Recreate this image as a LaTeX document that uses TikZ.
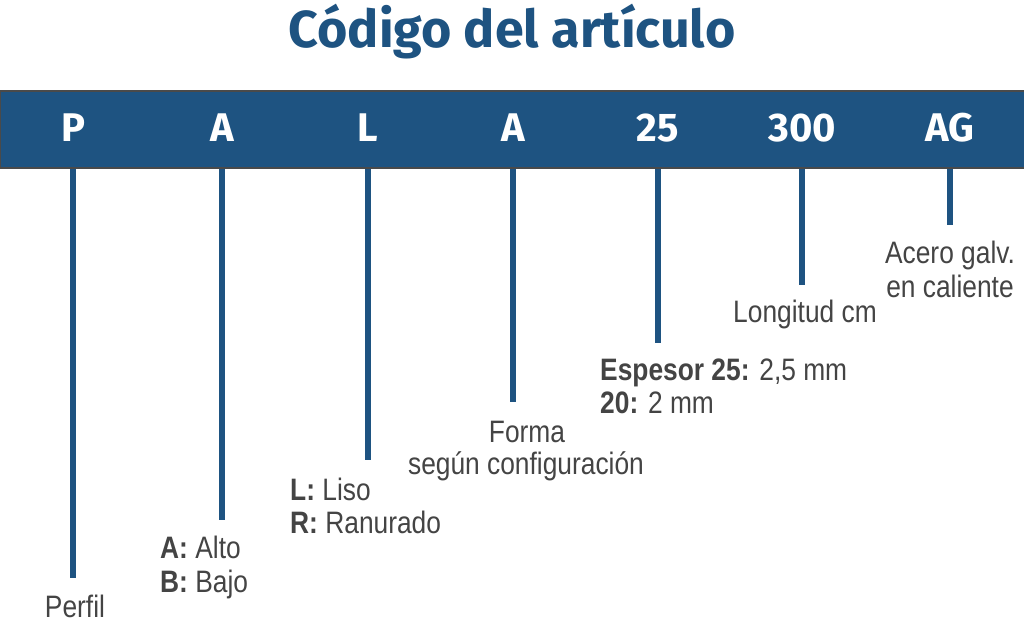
\documentclass[tikz,border=0pt]{standalone}
\usepackage{fontspec}
\setmainfont{Liberation Sans}
\newfontfamily\lab[FakeStretch=0.85]{Liberation Sans}
\newfontfamily\ttl{Fira Sans}
\definecolor{navy}{HTML}{1E5381}
\definecolor{txt}{HTML}{444444}
\definecolor{rim}{HTML}{4A4A4A}
\begin{document}
\begin{tikzpicture}[x=1pt,y=-1pt,
  code/.style={text=white,font=\ttl\bfseries\fontsize{40}{40}\selectfont,inner sep=0pt},
  lbl/.style={text=txt,font=\lab\fontsize{31}{31}\selectfont,inner sep=0pt},
  conn/.style={draw=navy,line width=5.5pt}]
\useasboundingbox (0,0) rectangle (1024,630);
\node[text=navy,font=\ttl\bfseries\fontsize{52}{52}\selectfont,inner sep=0pt,anchor=base] (title) at (512,47) {Código del artículo};
\node[draw=rim,line width=1.5pt,fill=navy,minimum width=1026pt,minimum height=77pt,inner sep=0pt,anchor=north west] (bar) at (-1,90) {};
\node[code] (cP) at (73,128) {P};
\node[code] (cA) at (222,128) {A};
\node[code] (cL) at (368,128) {L};
\node[code] (cF) at (513,128) {A};
\node[code] (cE) at (658,128) {25};
\node[code] (cG) at (802,128) {300};
\node[code] (cH) at (950,128) {AG};
\coordinate (eP) at (73,578);
\coordinate (eA) at (222,520);
\coordinate (eL) at (368,460);
\coordinate (eF) at (513,402);
\coordinate (eE) at (658,343);
\coordinate (eG) at (802,285);
\coordinate (eH) at (950,225);
\foreach \n in {P,A,L,F,E,G,H}{\draw[conn] (bar.south -| e\n) -- (e\n);}
\node[lbl,anchor=base] (tP) at (75,617) {Perfil};
\node[lbl,anchor=base west] (tA1) at (160,558) {\textbf{A:} Alto};
\node[lbl,anchor=base west] (tA2) at (160,592) {\textbf{B:} Bajo};
\node[lbl,anchor=base west] (tL1) at (290,500) {\textbf{L:} Liso};
\node[lbl,anchor=base west] (tL2) at (290,533) {\textbf{R:} Ranurado};
\node[lbl,anchor=base] (tF1) at (527,442) {Forma};
\node[lbl,anchor=base] (tF2) at (526,474) {según configuración};
\node[lbl,anchor=base west] (tE1) at (600,380) {\textbf{Espesor 25:} 2,5 mm};
\node[lbl,anchor=base west] (tE2) at (600,413) {\textbf{20:} 2 mm};
\node[lbl,anchor=base] (tG) at (805,322) {Longitud cm};
\node[lbl,anchor=base] (tH1) at (950,263) {Acero galv.};
\node[lbl,anchor=base] (tH2) at (950,297) {en caliente};
\end{tikzpicture}
\end{document}
